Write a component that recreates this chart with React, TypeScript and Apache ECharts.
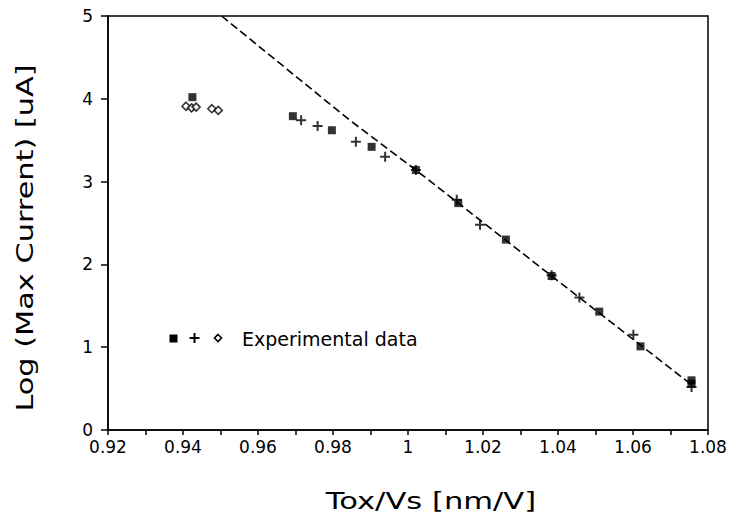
import React, { useEffect, useRef } from "react";
import * as echarts from "echarts";

// Experimental data: filled squares
const squareData: [number, number][] = [
  [0.9425, 4.02],
  [0.9693, 3.79],
  [0.9797, 3.62],
  [0.9903, 3.42],
  [1.0021, 3.14],
  [1.0134, 2.74],
  [1.0261, 2.3],
  [1.0383, 1.86],
  [1.051, 1.43],
  [1.062, 1.01],
  [1.0756, 0.6],
  [1.0756, 0.56],
];

// Experimental data: plus signs
const plusData: [number, number][] = [
  [0.9715, 3.74],
  [0.9759, 3.67],
  [0.9861, 3.48],
  [0.9939, 3.3],
  [1.0021, 3.14],
  [1.013, 2.78],
  [1.0192, 2.48],
  [1.0383, 1.87],
  [1.0457, 1.6],
  [1.0601, 1.15],
  [1.0756, 0.52],
];

// Experimental data: open diamonds
const diamondData: [number, number][] = [
  [0.9408, 3.91],
  [0.9423, 3.89],
  [0.9435, 3.9],
  [0.9477, 3.88],
  [0.9494, 3.86],
];

// Dashed model line
const modelLine: [number, number][] = [
  [0.9503, 5.0],
  [0.9845, 3.74],
  [1.0021, 3.14],
  [1.0383, 1.86],
  [1.0758, 0.54],
];

const xMin = 0.92;
const xMax = 1.08;
const xStep = 0.02;
const yMin = 0;
const yMax = 5;
const yStep = 1;

const PLUS_PATH = "path://M4,0h2v4h4v2h-4v4h-2v-4h-4v-2h4z";
const FONT = "DejaVu Sans, Liberation Sans, Arial, sans-serif";

export default function App() {
  const ref = useRef<HTMLDivElement>(null);

  useEffect(() => {
    document.body.style.margin = "0";
    if (!ref.current) return;
    const chart = echarts.init(ref.current, undefined, { renderer: "svg" });
    chart.setOption({
      animation: false,
      backgroundColor: "#ffffff",
      grid: {
        left: 108,
        right: 23,
        top: 16,
        bottom: 97,
        show: true,
        borderColor: "#000",
        borderWidth: 1.5,
        backgroundColor: "transparent",
      },
      xAxis: {
        type: "value",
        min: xMin,
        max: xMax,
        interval: xStep,
        axisLine: { show: true, onZero: false, lineStyle: { color: "#000", width: 1.5 } },
        axisTick: { show: true, inside: false, length: 5, lineStyle: { color: "#000", width: 1.5 } },
        minorTick: { show: true, splitNumber: 2, length: 5, lineStyle: { color: "#000", width: 1.5 } },
        splitLine: { show: false },
        axisLabel: {
          margin: 10,
          color: "#000",
          fontSize: 17,
          lineHeight: 14,
          fontFamily: FONT,
          formatter: (v: number) => String(Math.round(v * 100) / 100),
        },
      },
      yAxis: {
        type: "value",
        min: yMin,
        max: yMax,
        interval: yStep,
        axisLine: { show: true, onZero: false, lineStyle: { color: "#000", width: 1.5 } },
        axisTick: { show: true, inside: false, length: 7, lineStyle: { color: "#000", width: 1.5 } },
        splitLine: { show: false },
        axisLabel: { margin: 15, color: "#000", fontSize: 17, lineHeight: 12, fontFamily: FONT },
      },
      series: [
        {
          type: "line",
          data: modelLine,
          symbol: "none",
          lineStyle: { color: "#000", width: 1.6, type: [8, 4] },
          z: 1,
        },
        {
          type: "scatter",
          data: squareData,
          symbol: "rect",
          symbolSize: 8,
          itemStyle: { color: "#000" },
          z: 3,
        },
        {
          type: "scatter",
          data: plusData,
          symbol: PLUS_PATH,
          symbolSize: 10,
          itemStyle: { color: "#000" },
          z: 3,
        },
        {
          type: "scatter",
          data: diamondData,
          symbol: "diamond",
          symbolSize: 8,
          itemStyle: { color: "#fff", borderColor: "#000", borderWidth: 1.6 },
          z: 3,
        },
      ],
      graphic: [
        {
          type: "text",
          x: 431,
          y: 501,
          scaleX: 1.33,
          style: {
            text: "Tox/Vs [nm/V]",
            font: `23px ${FONT}`,
            fill: "#000",
            textAlign: "center",
            textVerticalAlign: "middle",
          },
        },
        {
          type: "text",
          x: 25,
          y: 238,
          rotation: Math.PI / 2,
          scaleX: 1.32,
          style: {
            text: "Log (Max Current) [uA]",
            font: `23px ${FONT}`,
            fill: "#000",
            textAlign: "center",
            textVerticalAlign: "middle",
          },
        },
        {
          type: "rect",
          shape: { x: 169.5, y: 334.5, width: 8, height: 8 },
          style: { fill: "#000" },
        },
        {
          type: "rect",
          shape: { x: 189.5, y: 337, width: 10, height: 2 },
          style: { fill: "#000" },
        },
        {
          type: "rect",
          shape: { x: 193.5, y: 333, width: 2, height: 10 },
          style: { fill: "#000" },
        },
        {
          type: "polygon",
          shape: { points: [[218, 334.5], [221.5, 338], [218, 341.5], [214.5, 338]] },
          style: { fill: "#fff", stroke: "#000", lineWidth: 1.6 },
        },
        {
          type: "text",
          x: 242,
          y: 339,
          style: {
            text: "Experimental data",
            font: `19px ${FONT}`,
            fill: "#000",
            textAlign: "left",
            textVerticalAlign: "middle",
          },
        },
      ],
    });
    return () => chart.dispose();
  }, []);

  return <div ref={ref} style={{ width: 731, height: 527 }} />;
}
